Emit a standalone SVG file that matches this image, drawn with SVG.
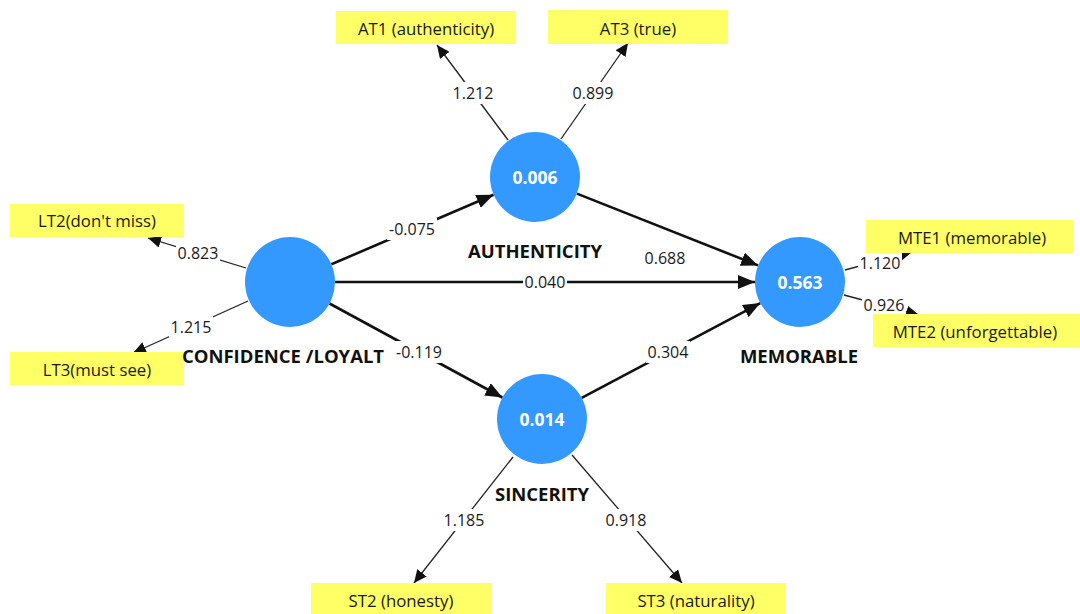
<svg xmlns="http://www.w3.org/2000/svg" width="1080" height="614" viewBox="0 0 1080 614">
<style>
.box{fill:#ffff66}
.bt{font-family:"Open Sans","Noto Sans",sans-serif;font-size:16.8px;fill:#1a1a1a;text-anchor:middle;dominant-baseline:central}
.lv{fill:#3399ff}
.lt{font-family:"Open Sans","Noto Sans",sans-serif;font-size:17.5px;font-weight:bold;fill:#fff;text-anchor:middle;dominant-baseline:central}
.nm{font-family:"Open Sans","Noto Sans",sans-serif;font-size:18.5px;font-weight:bold;fill:#111;text-anchor:middle;dominant-baseline:central}
.num{font-family:"Open Sans","Noto Sans",sans-serif;font-size:16px;fill:#1a1a1a;text-anchor:middle;dominant-baseline:central}
.bg{fill:#fff}
.thin{stroke:#222;stroke-width:1.3;fill:none;marker-end:url(#ah)}
.thick{stroke:#111;stroke-width:2.6;fill:none;marker-end:url(#ahb)}
</style>
<defs>
<marker id="ah" markerUnits="userSpaceOnUse" markerWidth="14" markerHeight="12" refX="13" refY="6" orient="auto"><path d="M0,0 L13,6 L0,12 Z" fill="#111"/></marker>
<marker id="ahb" markerUnits="userSpaceOnUse" markerWidth="18" markerHeight="14" refX="17" refY="7" orient="auto"><path d="M0,0 L17,7 L0,14 Z" fill="#111"/></marker>
</defs>
<g id="connectors">
<line class="thin" x1="508" y1="140" x2="437" y2="45"/>
<line class="thin" x1="561" y1="139" x2="628" y2="43"/>
<line class="thin" x1="246" y1="268" x2="148" y2="238"/>
<line class="thin" x1="248" y1="301" x2="133" y2="353"/>
<line class="thin" x1="845" y1="270" x2="912" y2="252"/>
<line class="thin" x1="844" y1="295" x2="919" y2="315"/>
<line class="thin" x1="513" y1="457" x2="414" y2="583"/>
<line class="thin" x1="572" y1="455" x2="682" y2="583"/>
<line class="thick" x1="331.4" y1="264.3" x2="493.6" y2="194.7"/>
<line class="thick" x1="576.9" y1="193.6" x2="758.1" y2="265.4"/>
<line class="thick" x1="335" y1="282" x2="755" y2="282"/>
<line class="thick" x1="329.5" y1="303.5" x2="502.4" y2="397.5"/>
<line class="thick" x1="581.7" y1="397.9" x2="760.3" y2="303.1"/>
<rect class="bg" x="451" y="82" width="44" height="22"/><text class="num" x="473" y="93">1.212</text>
<rect class="bg" x="571" y="82" width="44" height="22"/><text class="num" x="593" y="93">0.899</text>
<rect class="bg" x="176" y="242" width="44" height="22"/><text class="num" x="198" y="253">0.823</text>
<rect class="bg" x="169" y="316" width="44" height="22"/><text class="num" x="191" y="327">1.215</text>
<rect class="bg" x="858" y="252" width="44" height="22"/><text class="num" x="880" y="263">1.120</text>
<rect class="bg" x="862" y="294" width="44" height="22"/><text class="num" x="884" y="305">0.926</text>
<rect class="bg" x="442" y="509" width="44" height="22"/><text class="num" x="464" y="520">1.185</text>
<rect class="bg" x="604" y="509" width="44" height="22"/><text class="num" x="626" y="520">0.918</text>
<rect class="bg" x="387" y="218" width="50" height="22"/><text class="num" x="412" y="229">-0.075</text>
<rect class="bg" x="643" y="247" width="44" height="22"/><text class="num" x="665" y="258">0.688</text>
<rect class="bg" x="523" y="271" width="44" height="22"/><text class="num" x="545" y="282">0.040</text>
<rect class="bg" x="394" y="341" width="50" height="22"/><text class="num" x="419" y="352">-0.119</text>
<rect class="bg" x="646" y="341" width="44" height="22"/><text class="num" x="668" y="352">0.304</text>
</g>
<g id="AT1"><rect class="box" x="336" y="11" width="180" height="33"/><text class="bt" x="426" y="28">AT1 (authenticity)</text></g>
<g id="AT3"><rect class="box" x="548" y="10" width="180" height="34"/><text class="bt" x="638" y="28">AT3 (true)</text></g>
<g id="LT2"><rect class="box" x="10" y="204" width="174" height="33"/><text class="bt" x="97" y="220">LT2(don't miss)</text></g>
<g id="LT3"><rect class="box" x="10" y="352" width="174" height="33"/><text class="bt" x="97" y="369">LT3(must see)</text></g>
<g id="MTE1"><rect class="box" x="866" y="220" width="207" height="33"/><text class="bt" x="972" y="237">MTE1 (memorable)</text></g>
<g id="MTE2"><rect class="box" x="873" y="314" width="207" height="33"/><text class="bt" x="975" y="331">MTE2 (unforgettable)</text></g>
<g id="ST2"><rect class="box" x="311" y="583" width="181" height="33"/><text class="bt" x="401" y="600">ST2 (honesty)</text></g>
<g id="ST3"><rect class="box" x="606" y="583" width="180" height="33"/><text class="bt" x="696" y="600">ST3 (naturality)</text></g>
<g id="AUTHENTICITY"><circle class="lv" cx="535" cy="177" r="45"/><text class="lt" x="535" y="177">0.006</text><text class="nm" x="535" y="250">AUTHENTICITY</text></g>
<g id="CONFIDENCE"><circle class="lv" cx="290" cy="282" r="45"/><text class="nm" x="283" y="355">CONFIDENCE /LOYALT</text></g>
<g id="MEMORABLE"><circle class="lv" cx="800" cy="282" r="45"/><text class="lt" x="800" y="282">0.563</text><text class="nm" x="799" y="355">MEMORABLE</text></g>
<g id="SINCERITY"><circle class="lv" cx="542" cy="419" r="45"/><text class="lt" x="542" y="419">0.014</text><text class="nm" x="542" y="493">SINCERITY</text></g>
</svg>
